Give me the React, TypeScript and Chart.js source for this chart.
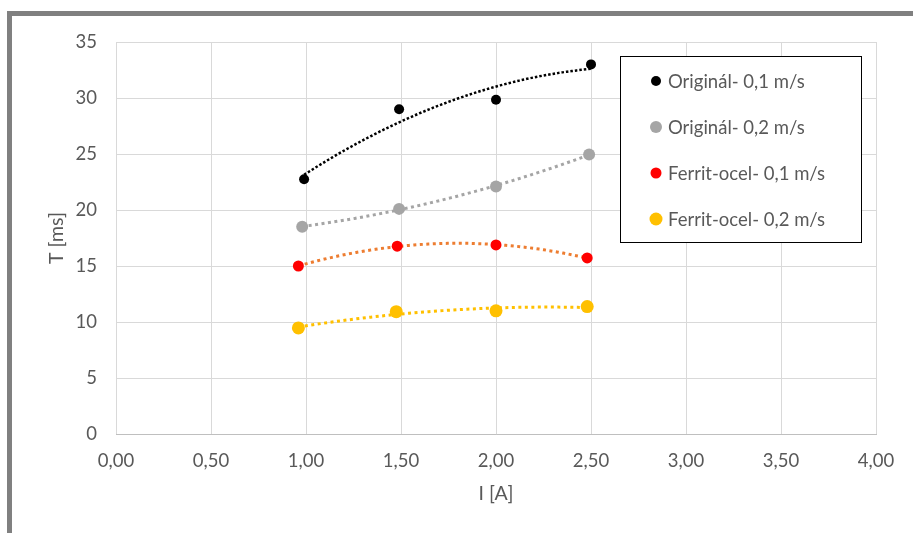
import React, { useEffect, useRef } from "react";
import { Chart, registerables } from "chart.js";

Chart.register(...registerables);

// ---- data ----
const seriesNames = [
  "Originál- 0,1 m/s",
  "Originál- 0,2 m/s",
  "Ferrit-ocel- 0,1 m/s",
  "Ferrit-ocel- 0,2 m/s",
];
const orig01X = [0.99, 1.49, 2.0, 2.5];
const orig01Y = [22.75, 29.0, 29.85, 33.0];
const orig02X = [0.98, 1.49, 2.0, 2.49];
const orig02Y = [18.5, 20.1, 22.1, 24.95];
const ferrit01X = [0.96, 1.48, 2.0, 2.48];
const ferrit01Y = [15.0, 16.77, 16.88, 15.72];
const ferrit02X = [0.96, 1.475, 2.0, 2.48];
const ferrit02Y = [9.47, 10.92, 11.0, 11.38];
const xMin = 0, xMax = 4, xStep = 0.5;
const yMin = 0, yMax = 35, yStep = 5;
const xTitle = "I [A]";
const yTitle = "T [ms]";

const pointColors = ["#000000", "#a5a5a5", "#ff0000", "#ffc000"];
const trendColors = ["#000000", "#a5a5a5", "#ed7d31", "#ffc000"];
const pointRadii = [5, 6, 5.5, 6.5];

const FONT = "Lato, 'Open Sans', sans-serif";
const TEXT = "#595959";

// quadratic least-squares trendline (Excel "polynomial, order 2")
function polyFit2(xs: number[], ys: number[]) {
  const n = xs.length;
  let s1 = 0, s2 = 0, s3 = 0, s4 = 0, t0 = 0, t1 = 0, t2 = 0;
  for (let i = 0; i < n; i++) {
    const x = xs[i], y = ys[i];
    s1 += x; s2 += x * x; s3 += x * x * x; s4 += x * x * x * x;
    t0 += y; t1 += x * y; t2 += x * x * y;
  }
  const A = [
    [n, s1, s2, t0],
    [s1, s2, s3, t1],
    [s2, s3, s4, t2],
  ];
  for (let c = 0; c < 3; c++) {
    let p = c;
    for (let r = c + 1; r < 3; r++) if (Math.abs(A[r][c]) > Math.abs(A[p][c])) p = r;
    [A[c], A[p]] = [A[p], A[c]];
    for (let r = 0; r < 3; r++) {
      if (r === c) continue;
      const f = A[r][c] / A[c][c];
      for (let k = c; k < 4; k++) A[r][k] -= f * A[c][k];
    }
  }
  const a0 = A[0][3] / A[0][0], a1 = A[1][3] / A[1][1], a2 = A[2][3] / A[2][2];
  return (x: number) => a0 + a1 * x + a2 * x * x;
}

function trendPoints(xs: number[], ys: number[]) {
  const f = polyFit2(xs, ys);
  const lo = Math.min(...xs), hi = Math.max(...xs);
  const pts = [];
  const N = 60;
  for (let i = 0; i <= N; i++) {
    const x = lo + ((hi - lo) * i) / N;
    pts.push({ x, y: f(x) });
  }
  return pts;
}

const allX = [orig01X, orig02X, ferrit01X, ferrit02X];
const allY = [orig01Y, orig02Y, ferrit01Y, ferrit02Y];

const legendPlugin = {
  id: "boxLegend",
  afterDraw(chart: any) {
    const ctx = chart.ctx;
    ctx.save();
    const bx = 620, by = 56, bw = 241, bh = 186;
    ctx.fillStyle = "#ffffff";
    ctx.fillRect(bx, by, bw, bh);
    ctx.strokeStyle = "#000000";
    ctx.lineWidth = 1;
    ctx.strokeRect(bx + 0.5, by + 0.5, bw, bh);
    ctx.font = `18.5px ${FONT}`;
    ctx.textBaseline = "middle";
    ctx.textAlign = "left";
    seriesNames.forEach((name, i) => {
      const cy = 81 + i * 46;
      ctx.beginPath();
      ctx.fillStyle = pointColors[i];
      ctx.arc(656, cy, pointRadii[i], 0, Math.PI * 2);
      ctx.fill();
      ctx.fillStyle = TEXT;
      ctx.fillText(name, 668, cy + 1);
    });
    ctx.restore();
  },
};

const fmtX = (v: number) => Number(v).toFixed(2).replace(".", ",");

export default function App() {
  const ref = useRef<HTMLCanvasElement | null>(null);
  useEffect(() => {
    if (!ref.current) return;
    const trendDash = [[2.5, 2], [3, 3.5], [3, 3.5], [3, 3.5]];
    const trendWidth = [2.5, 3, 3, 3];
    const datasets: any[] = [];
    seriesNames.forEach((name, i) => {
      datasets.push({
        label: name,
        data: allX[i].map((x, k) => ({ x, y: allY[i][k] })),
        backgroundColor: pointColors[i],
        borderColor: pointColors[i],
        pointRadius: pointRadii[i],
        pointBorderWidth: 0,
        showLine: false,
        order: 1,
      });
    });
    seriesNames.forEach((name, i) => {
      datasets.push({
        label: name + " trend",
        data: trendPoints(allX[i], allY[i]),
        borderColor: trendColors[i],
        borderWidth: trendWidth[i],
        borderDash: trendDash[i],
        pointRadius: 0,
        showLine: true,
        fill: false,
        tension: 0,
        order: 2,
      });
    });
    const chart = new Chart(ref.current, {
      type: "scatter",
      data: { datasets },
      options: {
        responsive: false,
        animation: false,
        layout: { padding: { left: 41, top: 42, right: 37, bottom: 24 } },
        plugins: { legend: { display: false }, tooltip: { enabled: false } },
        scales: {
          x: {
            type: "linear",
            min: xMin,
            max: xMax,
            afterFit: (s: any) => { s.height = 75; },
            ticks: {
              stepSize: xStep,
              callback: (v: any) => fmtX(v),
              color: TEXT,
              font: { family: FONT, size: 18.5 },
              padding: 16,
              maxRotation: 0,
            },
            grid: { color: "#d9d9d9", drawTicks: false, lineWidth: 1 },
            border: { color: "#bfbfbf", width: 1 },
            title: {
              display: true,
              text: xTitle,
              color: TEXT,
              font: { family: FONT, size: 19.5 },
            },
          },
          y: {
            type: "linear",
            min: yMin,
            max: yMax,
            afterFit: (s: any) => { s.width = 75; },
            ticks: {
              stepSize: yStep,
              color: TEXT,
              font: { family: FONT, size: 18.5 },
              padding: 19,
            },
            grid: { color: "#d9d9d9", drawTicks: false, lineWidth: 1 },
            border: { display: false },
            title: {
              display: true,
              text: yTitle,
              color: TEXT,
              font: { family: FONT, size: 19.5 },
            },
          },
        },
      },
      plugins: [legendPlugin],
    });
    return () => chart.destroy();
  }, []);

  return (
    <div style={{ position: "fixed", left: 0, top: 0, width: 913, height: 533, background: "#fff" }}>
      <div
        style={{
          position: "absolute",
          left: 7,
          top: 11,
          right: 0,
          bottom: 0,
          borderTop: "5px solid #808080",
          borderLeft: "5px solid #808080",
          boxSizing: "border-box",
        }}
      />
      <canvas ref={ref} width={913} height={533} style={{ position: "absolute", left: 0, top: 0 }} />
    </div>
  );
}
